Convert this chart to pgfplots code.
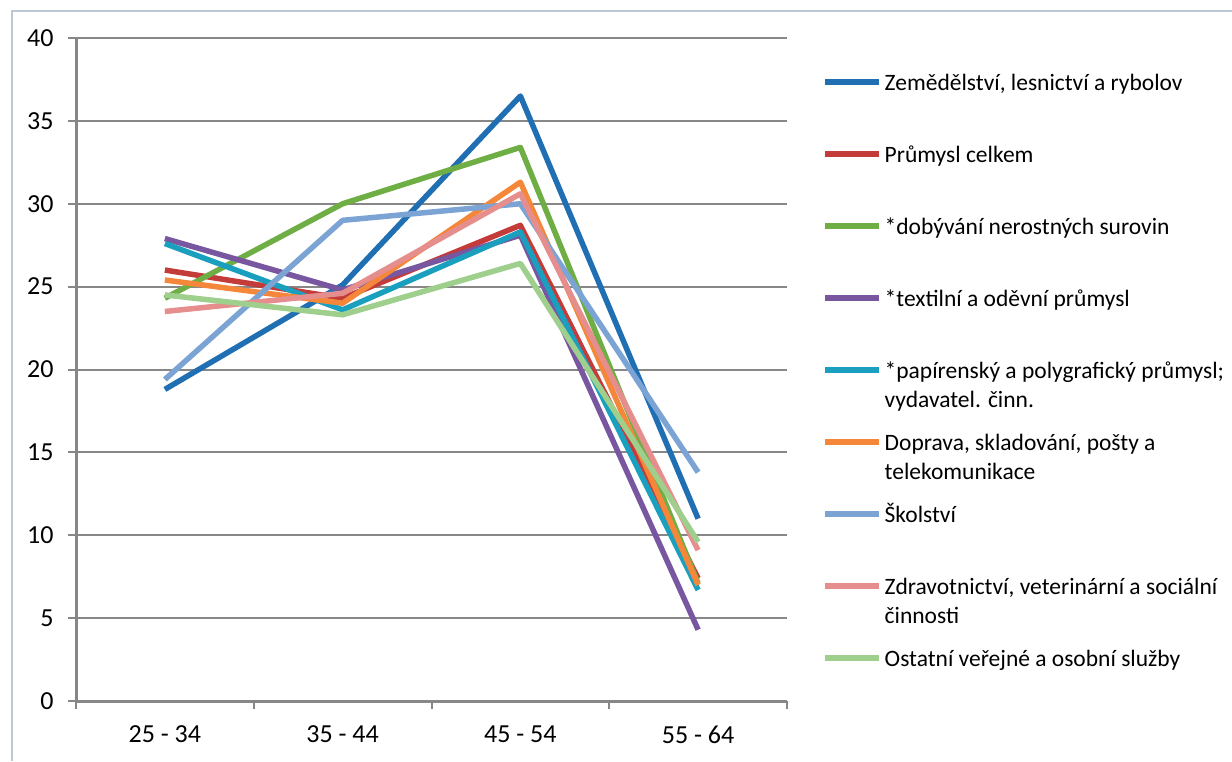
\documentclass[border=0pt]{standalone}
\usepackage{pgfplots}
\pgfplotsset{compat=1.18}
\usepackage{fontspec}
\setmainfont{Carlito}

\definecolor{cZem}{HTML}{1F6FB2}
\definecolor{cPrum}{HTML}{C43C3A}
\definecolor{cDob}{HTML}{6FAE45}
\definecolor{cText}{HTML}{7856A0}
\definecolor{cPap}{HTML}{1AA0BE}
\definecolor{cDop}{HTML}{F5873A}
\definecolor{cSkol}{HTML}{7BA4D5}
\definecolor{cZdr}{HTML}{E68E8E}
\definecolor{cOst}{HTML}{9ECF8C}
\definecolor{axisgray}{HTML}{878787}
\definecolor{framecol}{HTML}{BCC8D6}

% legend text box, top aligned so the first line carries the baseline
\newcommand{\lt}[1]{\parbox[t]{360pt}{\raggedright #1}}

\begin{document}
\begin{tikzpicture}[x=1pt,y=1pt]
\path[use as bounding box] (0,0) rectangle (1232,-761);
\draw[framecol, line width=1.5pt] (12,-761) -- (12,-11) -- (1232,-11);
\begin{axis}[
  at={(76pt,-701pt)}, anchor=south west,
  scale only axis, width=711pt, height=663pt,
  xmin=-0.5, xmax=3.5, ymin=0, ymax=40,
  axis x line*=bottom, axis y line*=left,
  axis line style={axisgray, line width=3pt},
  xtick={0,1,2,3},
  xticklabels={25 - 34, 35 - 44, 45 - 54, 55 - 64},
  minor xtick={-0.5,0.5,1.5,2.5,3.5},
  major x tick style={draw=none},
  minor x tick style={axisgray, line width=2pt},
  minor tick length=8pt,
  ytick={0,5,...,40},
  y tick style={axisgray, line width=2pt},
  major tick length=8pt,
  tick align=outside,
  ymajorgrids,
  major grid style={axisgray, line width=2pt},
  tick label style={font=\fontsize{26}{30}\selectfont, black},
  yticklabel style={xshift=-11pt},
  xticklabel style={yshift=-13pt},
  /pgf/number format/assume math mode=true,
  clip=false,
  legend style={draw=none, fill=none, at={(1.045,0.948)}, anchor=north west,
    font=\fontsize{23.5}{29}\selectfont, row sep=14pt, column sep=3pt,
    nodes={inner sep=0pt, text height=16pt, text depth=42pt}},
  legend cell align=left,
  legend image code/.code={\path (0pt,0pt); \draw[#1] (0pt,21.5pt) -- (54pt,21.5pt);},
  every axis plot/.append style={line width=5.5pt, line join=round, no markers},
]
\addplot[cZem]  coordinates {(0,18.8) (1,25.1) (2,36.5) (3,11.0)};
\addplot[cPrum] coordinates {(0,26.0) (1,24.3) (2,28.7) (3,7.4)};
\addplot[cDob]  coordinates {(0,24.3) (1,30.0) (2,33.4) (3,7.1)};
\addplot[cText] coordinates {(0,27.9) (1,24.8) (2,28.1) (3,4.3)};
\addplot[cPap]  coordinates {(0,27.6) (1,23.6) (2,28.3) (3,6.7)};
\addplot[cDop]  coordinates {(0,25.4) (1,24.0) (2,31.3) (3,7.0)};
\addplot[cSkol] coordinates {(0,19.4) (1,29.0) (2,30.0) (3,13.8)};
\addplot[cZdr]  coordinates {(0,23.5) (1,24.6) (2,30.6) (3,9.1)};
\addplot[cOst]  coordinates {(0,24.5) (1,23.3) (2,26.4) (3,9.6)};
\legend{
  \lt{Zemědělství, lesnictví a rybolov},
  \lt{Průmysl celkem},
  \lt{*dobývání nerostných surovin},
  \lt{*textilní a oděvní průmysl},
  \lt{*papírenský a polygrafický průmysl;\\vydavatel. činn.},
  \lt{Doprava, skladování, pošty a\\telekomunikace},
  \lt{Školství},
  \lt{Zdravotnictví, veterinární a sociální\\činnosti},
  \lt{Ostatní veřejné a osobní služby}
}
\end{axis}
\end{tikzpicture}
\end{document}
